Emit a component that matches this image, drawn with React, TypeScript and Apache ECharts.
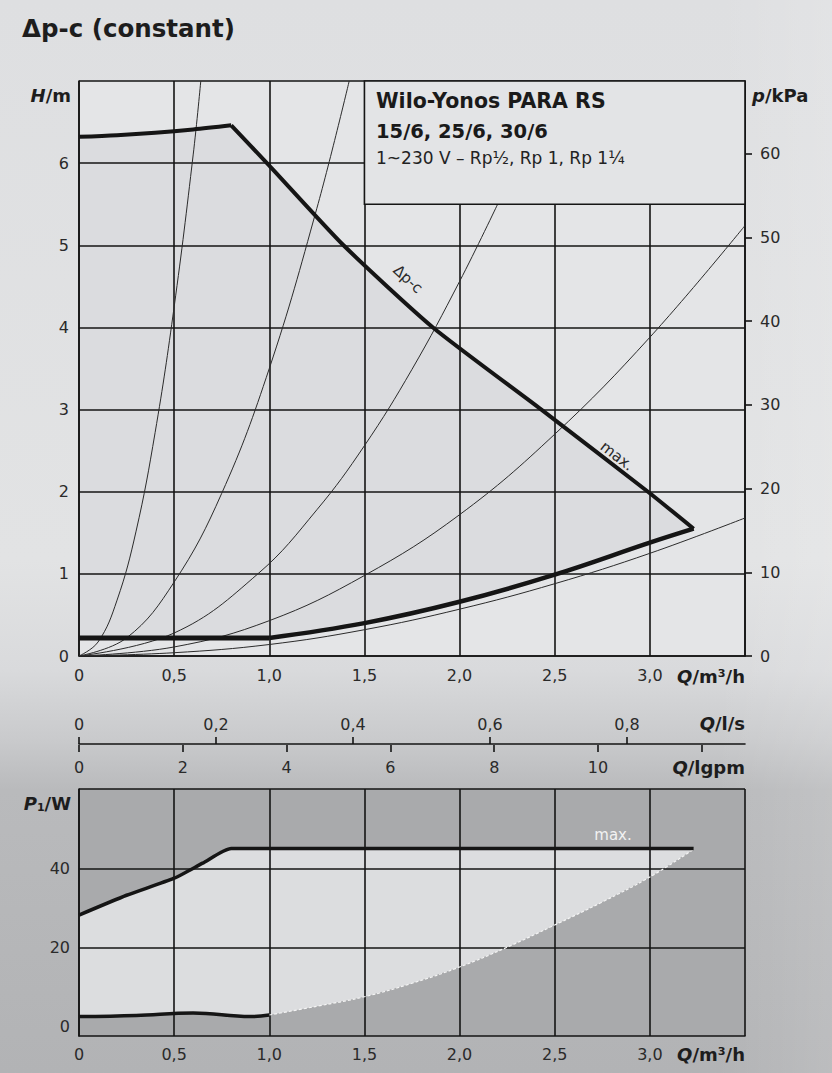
import React, { useEffect, useRef } from 'react';
import * as echarts from 'echarts';

// ---------- axes / ticks ----------
const flowLabels = [0, 0.5, 1, 1.5, 2, 2.5, 3];
const headLabels = [0, 1, 2, 3, 4, 5, 6];
const pressureTicks = [0, 10, 20, 30, 40, 50, 60];
const powerLabels = [0, 20, 40];
const powerGrid = [20, 40, 60];
const litreTicks = [0, 0.2, 0.4, 0.6, 0.8];
const igpmTicks = [0, 2, 4, 6, 8, 10, 12];
const igpmLabels = [0, 2, 4, 6, 8, 10];

const Q_MAX = 3.5; // m3/h
const H_MAX = 7; // m
const KPA_PER_M = 9.81;
const LS_PER_M3H = 1 / 3.6;
const IGPM_PER_M3H = 3.6661;
const P_MIN = -2.3;
const P_MAX = 60;

// ---------- Δp-c envelope (Q m3/h, H m) ----------
const dpcTop: number[][] = [[0, 6.32], [0.2, 6.34], [0.4, 6.37], [0.6, 6.41], [0.8, 6.46]];
const dpcMaxLine: number[][] = [[0.8, 6.46], [1.0, 5.97], [1.39, 5.0], [1.86, 4.0], [2.43, 3.0], [2.99, 2.0], [3.23, 1.55]];
const dpcLowCurve: number[][] = [[1.0, 0.22], [1.5, 0.4], [2.0, 0.66], [2.5, 0.99], [3.0, 1.38], [3.23, 1.55]];
const dpcMinLine: number[][] = [[0, 0.22], [1.0, 0.22]];

// ---------- system curves ----------
const sysA: number[][] = [[0, 0], [0.1, 0.17], [0.2, 0.68], [0.3, 1.52], [0.4, 2.72], [0.5, 4.25], [0.6, 6.1], [0.64, 7.0]];
const sysB: number[][] = [[0, 0], [0.25, 0.22], [0.5, 0.9], [0.75, 1.98], [1.0, 3.5], [1.25, 5.45], [1.42, 7.0]];
const sysC: number[][] = [[0, 0], [0.5, 0.28], [0.94, 1.0], [1.25, 1.78], [1.5, 2.56], [1.75, 3.49], [2.0, 4.56], [2.2, 5.5]];
const sysD: number[][] = [[0, 0], [0.5, 0.11], [1.0, 0.43], [1.5, 0.98], [2.0, 1.72], [2.5, 2.7], [3.0, 3.88], [3.5, 5.24]];
const sysE: number[][] = [[0, 0], [0.5, 0.04], [1.0, 0.14], [1.5, 0.32], [2.0, 0.57], [2.5, 0.88], [3.0, 1.25], [3.5, 1.68]];

// ---------- power P1 (Q m3/h, W) ----------
const powerMax: number[][] = [[0, 28.2], [0.25, 33.2], [0.5, 37.5], [0.65, 41.3], [0.8, 45], [3.23, 45]];
const powerMin: number[][] = [[0, 2.6], [0.3, 2.9], [0.6, 3.5], [0.9, 2.6], [1.0, 3.0]];
const powerEdge: number[][] = [[1.0, 3.0], [1.25, 5.2], [1.5, 7.6], [1.75, 11], [2.0, 15.1], [2.25, 20.1], [2.5, 25.7], [2.75, 31.5], [3.0, 37.8], [3.23, 44.8]];

const legendBoxFrom = [1.5, 5.5];
const legendBoxTo = [3.5, 7];

const FONT = '"DejaVu Sans", sans-serif';
const INK = '#151515';
const LABEL = '#2a2a2a';

const fmtComma = (v: number) => (v === 0 ? '0' : v.toFixed(1).replace('.', ','));

export default function App() {
  const ref = useRef<HTMLDivElement>(null);

  useEffect(() => {
    if (!ref.current) return;
    const chart = echarts.init(ref.current, null, { renderer: 'svg' });

    const topRegion = [
      ...dpcTop,
      ...dpcMaxLine.slice(1),
      ...[...dpcLowCurve].reverse().slice(1),
      ...[...dpcMinLine].reverse(),
    ];
    const powerRegion = [
      ...powerMax,
      ...[...powerEdge].reverse(),
      ...[...powerMin].reverse().slice(1),
    ];

    const gridLine = { show: true, lineStyle: { color: INK, width: 1.6 } };
    const axisLbl = { color: LABEL, fontSize: 16, fontFamily: FONT };

    const line = (data: number[][], width: number, grid: number, extra: any = {}) => ({
      type: 'line',
      data,
      xAxisIndex: grid === 0 ? 0 : 3,
      yAxisIndex: grid === 0 ? 0 : 3,
      symbol: 'none',
      showSymbol: false,
      silent: true,
      z: 3,
      lineStyle: { color: INK, width },
      ...extra,
    });

    const thin = (data: number[][]) =>
      line(data, 1, 0, { smooth: 0.4, lineStyle: { color: '#2b2b2b', width: 1 } });

    const polygon = (pts: number[][], fill: string, xi: number, yi: number) => ({
      type: 'custom',
      xAxisIndex: xi,
      yAxisIndex: yi,
      z: 1,
      silent: true,
      data: [[0, 0]],
      renderItem: (_p: any, api: any) => ({
        type: 'polygon',
        shape: { points: pts.map((p) => api.coord(p)), smooth: 0 },
        style: { fill },
      }),
    });

    const txt = (x: number, y: number, text: string, o: any = {}, extra: any = {}) => ({
      type: 'text',
      x,
      y,
      z: 100,
      silent: true,
      ...extra,
      style: {
        text,
        fill: o.fill || '#1d1d1d',
        fontSize: o.fontSize || 16,
        fontWeight: o.fontWeight || 'normal',
        fontFamily: FONT,
        align: o.align || 'left',
        verticalAlign: 'middle',
        rich: o.rich,
      },
    });

    const titleRich = {
      i: { fontStyle: 'italic', fontWeight: 'bold', fontSize: 18, fontFamily: FONT, fill: '#1d1d1d' },
      s: { fontWeight: 'bold', fontSize: 11, fontFamily: FONT, fill: '#1d1d1d', padding: [9, 0, 0, 0] },
    };
    const axTitle = { fontWeight: 'bold', fontSize: 18, rich: titleRich };

    const option: any = {
      animation: false,
      textStyle: { fontFamily: FONT },
      grid: [
        { left: 79, right: 87, top: 81, height: 575, show: true, backgroundColor: '#e4e5e7', borderWidth: 0 },
        { left: 79, right: 87, top: 744, height: 1, show: false },
        { left: 79, right: 87, top: 789, height: 247, show: true, backgroundColor: '#a9aaac', borderWidth: 0 },
      ],
      xAxis: [
        {
          gridIndex: 0, type: 'value', min: 0, max: Q_MAX, interval: 0.5, z: 2,
          axisLine: { show: true, onZero: false, lineStyle: { color: INK, width: 1.6 } },
          axisTick: { show: false },
          axisLabel: { ...axisLbl, margin: 11, customValues: flowLabels, formatter: fmtComma },
          splitLine: gridLine,
        },
        {
          gridIndex: 1, type: 'value', position: 'top', min: 0, max: Q_MAX * LS_PER_M3H,
          axisLine: { show: true, onZero: false, lineStyle: { color: INK, width: 1.6 } },
          axisTick: { show: true, length: 7, customValues: litreTicks, lineStyle: { color: INK, width: 1.6 } },
          axisLabel: { ...axisLbl, margin: 12, customValues: litreTicks, formatter: fmtComma },
          splitLine: { show: false },
        },
        {
          gridIndex: 1, type: 'value', position: 'bottom', min: 0, max: Q_MAX * IGPM_PER_M3H,
          axisLine: { show: false, onZero: false },
          axisTick: { show: true, length: 7, customValues: igpmTicks, lineStyle: { color: INK, width: 1.6 } },
          axisLabel: { ...axisLbl, margin: 14, customValues: igpmLabels, formatter: (v: number) => String(v) },
          splitLine: { show: false },
        },
        {
          gridIndex: 2, type: 'value', min: 0, max: Q_MAX, interval: 0.5, z: 2,
          axisLine: { show: true, onZero: false, lineStyle: { color: INK, width: 1.6 } },
          axisTick: { show: false },
          axisLabel: { ...axisLbl, margin: 10, customValues: flowLabels, formatter: fmtComma },
          splitLine: gridLine,
        },
      ],
      yAxis: [
        {
          gridIndex: 0, type: 'value', min: 0, max: H_MAX, interval: 1, z: 2,
          axisLine: { show: true, onZero: false, lineStyle: { color: INK, width: 1.6 } },
          axisTick: { show: false },
          axisLabel: { ...axisLbl, margin: 10, customValues: headLabels, formatter: (v: number) => String(v) },
          splitLine: gridLine,
        },
        {
          gridIndex: 0, type: 'value', position: 'right', min: 0, max: H_MAX * KPA_PER_M, z: 2,
          axisLine: { show: true, onZero: false, lineStyle: { color: INK, width: 1.6 } },
          axisTick: { show: true, length: 7, customValues: pressureTicks, lineStyle: { color: INK, width: 1.6 } },
          axisLabel: { ...axisLbl, margin: 15, customValues: pressureTicks, formatter: (v: number) => String(v) },
          splitLine: { show: false },
        },
        { gridIndex: 1, type: 'value', show: false, min: 0, max: 1 },
        {
          gridIndex: 2, type: 'value', min: P_MIN, max: P_MAX, z: 2,
          axisLine: { show: true, onZero: false, lineStyle: { color: INK, width: 1.6 } },
          axisTick: { show: false, customValues: powerGrid },
          axisLabel: { ...axisLbl, margin: 9, customValues: powerLabels, formatter: (v: number) => String(v) },
          splitLine: gridLine,
        },
      ],
      series: [
        polygon(topRegion, '#dbdcdf', 0, 0),
        {
          type: 'custom', xAxisIndex: 0, yAxisIndex: 0, z: 5, silent: true, data: [[0, 0]],
          renderItem: (_p: any, api: any) => {
            const a = api.coord([legendBoxFrom[0], legendBoxTo[1]]);
            const b = api.coord([legendBoxTo[0], legendBoxFrom[1]]);
            return {
              type: 'rect',
              shape: { x: a[0], y: a[1], width: b[0] - a[0], height: b[1] - a[1] },
              style: { fill: '#e3e4e6', stroke: INK, lineWidth: 1.6 },
            };
          },
        },
        thin(sysA),
        thin(sysB),
        thin(sysC),
        thin(sysD),
        thin(sysE),
        line(dpcTop, 4, 0, { smooth: 0.3 }),
        line(dpcMaxLine, 4, 0, { smooth: 0.2 }),
        line(dpcLowCurve, 4.5, 0, { smooth: 0.4 }),
        line(dpcMinLine, 5, 0),

        polygon(powerRegion, '#dcdddf', 3, 3),
        line(powerEdge, 1.2, 2, { smooth: 0.4, lineStyle: { color: '#f5f5f5', width: 1.2, type: [3, 2] } }),
        line(powerMax, 3.5, 2, { smooth: 0.2 }),
        line(powerMin, 3.5, 2, { smooth: 0.4 }),
      ],
      graphic: [
        txt(22, 28, 'Δp-c (constant)', { fontSize: 24.5, fontWeight: 'bold', fill: '#1d1d1d' }),
        txt(71, 95, '{i|H}/m', { ...axTitle, align: 'right' }),
        txt(752, 95, '{i|p}/kPa', { ...axTitle }),
        txt(745, 676, '{i|Q}/m³/h', { ...axTitle, align: 'right' }),
        txt(745, 723, '{i|Q}/l/s', { ...axTitle, align: 'right' }),
        txt(745, 767, '{i|Q}/lgpm', { ...axTitle, align: 'right' }),
        txt(71, 803, '{i|P}{s|1}/W', { ...axTitle, align: 'right' }),
        txt(745, 1054, '{i|Q}/m³/h', { ...axTitle, align: 'right' }),
        txt(613, 835, 'max.', { fontSize: 15, fill: '#f2f2f2', align: 'center' }),
        txt(0, 0, 'Δp-c', { fontSize: 15, fill: '#2a2a2a', align: 'center' }, { x: 408, y: 279, rotation: -0.74 }),
        txt(0, 0, 'max.', { fontSize: 15, fill: '#2a2a2a', align: 'center' }, { x: 617, y: 456, rotation: -0.66 }),
        txt(376, 101, 'Wilo-Yonos PARA RS', { fontSize: 20.5, fontWeight: 'bold', fill: '#1a1a1a' }),
        txt(376, 131, '15/6, 25/6, 30/6', { fontSize: 19.5, fontWeight: 'bold', fill: '#1a1a1a' }),
        txt(376, 158, '1~230 V – Rp½, Rp 1, Rp 1¼', { fontSize: 17, fill: '#222' }),
      ],
    };

    chart.setOption(option);
    return () => chart.dispose();
  }, []);

  return (
    <div
      ref={ref}
      style={{
        position: 'absolute',
        left: 0,
        top: 0,
        width: 832,
        height: 1073,
        background:
          'linear-gradient(90deg, rgba(255,255,255,0) 0%, rgba(255,255,255,0) 86%, rgba(255,255,255,0.13) 100%), linear-gradient(180deg, #dedfe1 0px, #e2e3e4 560px, #d9dadc 670px, #c9cacc 740px, #b9babc 790px, #b2b3b5 1073px)',
      }}
    />
  );
}
